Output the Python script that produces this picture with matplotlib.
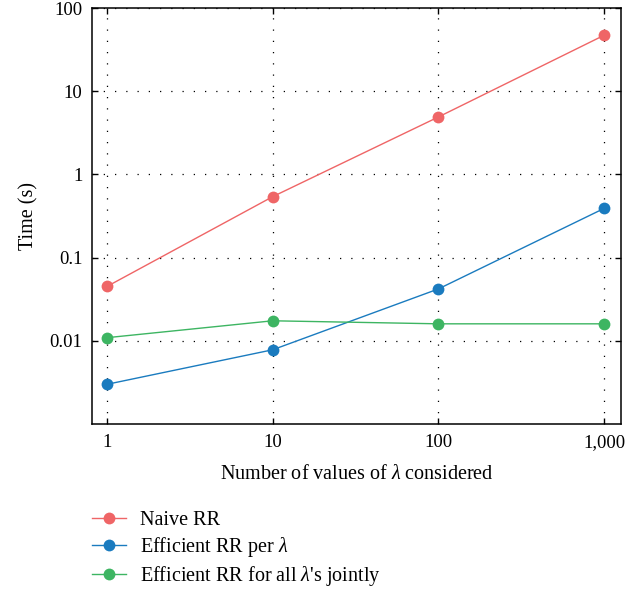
import matplotlib
matplotlib.use('Agg')
import matplotlib.pyplot as plt
from matplotlib.ticker import FixedLocator, FuncFormatter, NullLocator

plt.rcParams['font.family'] = 'Liberation Serif'
plt.rcParams['mathtext.fontset'] = 'custom'
plt.rcParams['mathtext.rm'] = 'Liberation Serif'
plt.rcParams['mathtext.it'] = 'Liberation Serif:italic'

# valeurs
n_lambdas = [1, 10, 100, 1000]
naive_rr = [0.045, 0.54, 4.9, 47]
efficient_per_lambda = [0.0030, 0.0078, 0.042, 0.39]
efficient_joint = [0.0109, 0.0174, 0.016, 0.016]

series_labels = ['Naive RR', r'Efficient RR per $\lambda$',
                 r"Efficient RR for all $\lambda$'s jointly"]
series_colors = ['#EF6566', '#1A7BBF', '#3DB562']

x_ticks = [1, 10, 100, 1000]
y_ticks = [0.01, 0.1, 1, 10, 100]

fig = plt.figure(figsize=(6.43, 5.94), dpi=100)
ax = fig.add_axes([0.1431, 0.2862, 0.8227, 0.7003])

for values, label, color in zip([naive_rr, efficient_per_lambda, efficient_joint],
                                series_labels, series_colors):
    ax.plot(n_lambdas, values, color=color, lw=1.0, marker='o', ms=8.5,
            markeredgewidth=0, label=label)

ax.set_xscale('log')
ax.set_yscale('log')
ax.set_xlim(0.812, 1266)
ax.set_ylim(0.001, 100)

ax.xaxis.set_major_locator(FixedLocator(x_ticks))
ax.xaxis.set_minor_locator(NullLocator())
ax.yaxis.set_major_locator(FixedLocator(y_ticks))
ax.yaxis.set_minor_locator(NullLocator())
ax.xaxis.set_major_formatter(FuncFormatter(lambda v, p: f'{int(round(v)):,}'))
ax.yaxis.set_major_formatter(FuncFormatter(lambda v, p: f'{v:g}'))

ax.tick_params(which='major', direction='in', length=4, width=1, top=True,
               right=True, labelsize=13.5, pad=7, colors='black')
ax.grid(True, which='major', color='black', linestyle=(0, (1, 8)), lw=0.9)

for s in ax.spines.values():
    s.set_linewidth(1.1)

ax.set_xlabel(r'Number of values of $\lambda$ considered', fontsize=14.5, labelpad=10)
ax.set_ylabel('Time (s)', fontsize=14.5, labelpad=8)

fig.legend(loc='upper left', bbox_to_anchor=(0.1306, 0.153), frameon=False,
           fontsize=14.5, handlelength=1.69, handletextpad=0.7,
           labelspacing=0.25, borderaxespad=0)

fig.savefig('out.png', dpi=100)
